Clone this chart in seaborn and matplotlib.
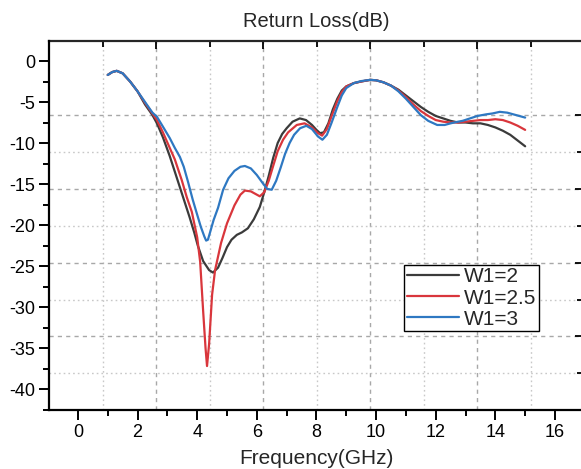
import numpy as np
import pandas as pd
import matplotlib
matplotlib.use("Agg")
import matplotlib.pyplot as plt
from matplotlib.ticker import MultipleLocator, FixedLocator
import seaborn as sns

# ---- measured return-loss curves (frequency in GHz, S11 in dB) ----
freq_w2 = [1.0, 1.15, 1.3, 1.5, 1.75, 2.0, 2.25, 2.5, 2.65, 2.85, 3.08, 3.25, 3.42, 3.58,
           3.75, 3.9, 4.02, 4.2, 4.4, 4.53, 4.7, 4.85, 5.0, 5.15, 5.33, 5.5, 5.7, 5.9,
           6.1, 6.25, 6.4, 6.55, 6.7, 6.85, 7.0, 7.2, 7.44, 7.65, 7.85, 8.0, 8.12, 8.25,
           8.4, 8.55, 8.7, 8.85, 9.0, 9.25, 9.5, 9.8, 10.0, 10.25, 10.5, 10.75, 11.0,
           11.25, 11.5, 11.75, 12.0, 12.25, 12.5, 12.75, 13.0, 13.25, 13.5, 13.75, 14.0,
           14.25, 14.5, 14.75, 15.0]
loss_w2 = [-1.7, -1.35, -1.2, -1.5, -2.5, -3.7, -5.3, -6.6, -7.6, -9.3, -11.6, -13.5, -15.4, -17.2,
           -19.1, -20.9, -22.5, -24.4, -25.5, -25.8, -25.2, -24.0, -22.7, -21.8, -21.2, -20.9, -20.4, -19.3,
           -17.8, -16.0, -14.0, -11.8, -10.0, -8.9, -8.2, -7.4, -7.0, -7.2, -7.8, -8.4, -8.8, -8.7,
           -7.6, -5.9, -4.6, -3.6, -3.1, -2.7, -2.5, -2.3, -2.35, -2.6, -3.0, -3.5, -4.2,
           -4.9, -5.6, -6.2, -6.7, -7.0, -7.3, -7.5, -7.5, -7.6, -7.6, -7.8, -8.1,
           -8.5, -9.0, -9.7, -10.4]

freq_w25 = [1.0, 1.15, 1.3, 1.5, 1.75, 2.0, 2.25, 2.5, 2.65, 2.85, 3.08, 3.25, 3.48, 3.65,
            3.82, 4.0, 4.1, 4.2, 4.28, 4.33, 4.4, 4.5, 4.6, 4.8, 5.0, 5.25, 5.45, 5.6,
            5.8, 6.0, 6.1, 6.25, 6.4, 6.54, 6.7, 6.88, 7.05, 7.34, 7.6, 7.85, 8.05, 8.19,
            8.35, 8.5, 8.7, 8.85, 9.0, 9.25, 9.5, 9.8, 10.0, 10.25, 10.5, 10.75, 11.0,
            11.25, 11.5, 11.75, 12.0, 12.25, 12.5, 12.75, 13.0, 13.25, 13.5, 13.75, 14.0,
            14.25, 14.5, 14.75, 15.0]
loss_w25 = [-1.7, -1.35, -1.2, -1.5, -2.5, -3.7, -5.1, -6.4, -7.2, -8.7, -10.6, -12.0, -14.5, -16.6,
            -18.4, -21.5, -24.5, -30.5, -35.0, -37.2, -34.5, -28.5, -25.5, -22.2, -19.8, -17.6, -16.3, -15.8,
            -15.9, -16.3, -16.5, -16.0, -14.6, -12.9, -11.0, -9.6, -8.7, -7.8, -7.6, -8.1, -8.8, -9.1,
            -8.3, -6.8, -4.9, -3.8, -3.1, -2.7, -2.5, -2.3, -2.35, -2.6, -3.0, -3.6, -4.4,
            -5.3, -6.1, -6.7, -7.2, -7.4, -7.5, -7.5, -7.4, -7.3, -7.2, -7.2, -7.1,
            -7.2, -7.5, -7.9, -8.4]

freq_w3 = [1.0, 1.15, 1.3, 1.5, 1.75, 2.0, 2.25, 2.5, 2.65, 2.85, 3.08, 3.25, 3.42, 3.55,
           3.69, 3.85, 3.98, 4.12, 4.24, 4.3, 4.36, 4.44, 4.55, 4.7, 4.87, 5.05, 5.25, 5.45, 5.6,
           5.8, 6.0, 6.2, 6.35, 6.5, 6.65, 6.8, 6.95, 7.1, 7.25, 7.45, 7.66, 7.85, 8.05,
           8.2, 8.35, 8.5, 8.7, 8.85, 9.0, 9.25, 9.5, 9.8, 10.0, 10.25, 10.5, 10.75, 11.0,
           11.25, 11.5, 11.75, 12.05, 12.3, 12.5, 12.75, 12.9, 13.15, 13.4, 13.7, 13.9,
           14.15, 14.4, 14.7, 15.0]
loss_w3 = [-1.7, -1.35, -1.2, -1.5, -2.5, -3.7, -5.0, -6.3, -6.8, -8.0, -9.4, -10.6, -11.7, -12.9,
           -14.7, -16.9, -18.5, -20.2, -21.4, -21.9, -21.8, -20.8, -19.4, -17.9, -15.7, -14.3, -13.4, -12.9, -12.8,
           -13.1, -13.9, -14.9, -15.6, -15.7, -14.6, -13.0, -11.3, -10.0, -9.0, -8.2, -7.9, -8.3, -9.2,
           -9.6, -9.0, -7.6, -5.6, -4.2, -3.3, -2.7, -2.45, -2.3, -2.35, -2.6, -3.0, -3.7, -4.6,
           -5.6, -6.6, -7.3, -7.8, -7.8, -7.6, -7.4, -7.3, -7.0, -6.7, -6.5, -6.4,
           -6.2, -6.3, -6.6, -6.9]

labels = ["W1=2", "W1=2.5", "W1=3"]
colors = ["#3b3b3b", "#d9363c", "#2e78c2"]

x_ticks = [0, 2, 4, 6, 8, 10, 12, 14, 16]
y_ticks = [0, -5, -10, -15, -20, -25, -30, -35, -40]

df = pd.concat([
    pd.DataFrame({"Frequency": freq_w2, "S11": loss_w2, "W1": labels[0]}),
    pd.DataFrame({"Frequency": freq_w25, "S11": loss_w25, "W1": labels[1]}),
    pd.DataFrame({"Frequency": freq_w3, "S11": loss_w3, "W1": labels[2]}),
], ignore_index=True)

sns.set_style("ticks")
plt.rcParams["font.family"] = ["Liberation Sans", "DejaVu Sans"]

W, H = 581, 469
fig = plt.figure(figsize=(W / 100, H / 100), dpi=100)

left_px, right_px, top_px, bottom_px = 49, 583, 41, 410
pos = [left_px / W, 1 - bottom_px / H, (right_px - left_px) / W, (bottom_px - top_px) / H]

xlim = (-0.97, 16.94)
ylim = (-42.56, 2.44)

# background axes carrying the (independently scaled) top/right ticks and the grid
gax = fig.add_axes(pos)
gx0, gdx = 0.832, 1.795
gy0, gdy = -6.585, 4.5
gax.set_xlim((xlim[0] - gx0) / gdx + 1, (xlim[1] - gx0) / gdx + 1)
gax.set_ylim((ylim[0] - gy0) / gdy, (ylim[1] - gy0) / gdy)
gax.xaxis.set_major_locator(FixedLocator([2, 4, 6, 8]))
gax.xaxis.set_minor_locator(FixedLocator([1, 3, 5, 7, 9]))
gax.yaxis.set_major_locator(FixedLocator([0, -2, -4, -6]))
gax.yaxis.set_minor_locator(FixedLocator([-1, -3, -5, -7]))
gax.xaxis.tick_top()
gax.yaxis.tick_right()
gax.tick_params(which="both", direction="in", color="black", width=1.3,
                labeltop=False, labelright=False, labelbottom=False, labelleft=False)
gax.tick_params(which="major", length=6)
gax.tick_params(which="minor", length=4)
gax.grid(which="major", color="#a8a8a8", linestyle=(0, (3, 3)), linewidth=1.0)
gax.grid(which="minor", color="#c8c8c8", linestyle=(0, (1.2, 2.2)), linewidth=1.0)
for s in ["left", "bottom", "right"]:
    gax.spines[s].set_visible(False)
gax.spines["top"].set_linewidth(1.6)
gax.set_zorder(0)

# main axes with the curves
ax = fig.add_axes(pos)
ax.set_zorder(1)
ax.patch.set_visible(False)

sns.lineplot(data=df, x="Frequency", y="S11", hue="W1", palette=dict(zip(labels, colors)),
             estimator=None, sort=False, linewidth=1.6, ax=ax)

ax.set_xlim(*xlim)
ax.set_ylim(*ylim)
ax.set_xticks(x_ticks)
ax.set_yticks(y_ticks)
ax.set_xticklabels([str(v) for v in x_ticks])
ax.set_yticklabels([str(v) for v in y_ticks])
ax.xaxis.set_minor_locator(MultipleLocator(1))
ax.yaxis.set_minor_locator(MultipleLocator(2.5))
ax.tick_params(which="both", direction="out", color="black", width=1.4, labelsize=13,
               labelcolor="black")
ax.tick_params(which="major", length=7, pad=3)
ax.tick_params(which="minor", length=4)
for s in ["top", "right"]:
    ax.spines[s].set_visible(False)
for s in ["left", "bottom"]:
    ax.spines[s].set_linewidth(1.6)
    ax.spines[s].set_color("black")

ax.set_title("Return Loss(dB)", fontsize=14.5, pad=10)
ax.set_xlabel("Frequency(GHz)", fontsize=15, labelpad=6)
ax.set_ylabel("")

leg = ax.legend(loc="upper left", bbox_to_anchor=(0.665, 0.393), borderaxespad=0,
                fontsize=15, frameon=True, fancybox=False, framealpha=1,
                edgecolor="black", handlelength=2.5, handletextpad=0.25,
                borderpad=0.12, labelspacing=0.1)
leg.get_frame().set_linewidth(1.0)
for line in leg.get_lines():
    line.set_linewidth(1.6)

fig.savefig("out.png", dpi=100)
